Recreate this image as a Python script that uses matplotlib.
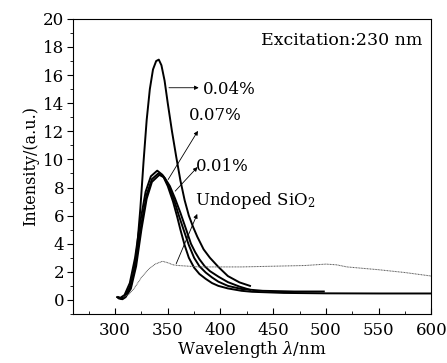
import matplotlib
matplotlib.use("Agg")
import matplotlib.pyplot as plt
from matplotlib.ticker import MultipleLocator

plt.rcParams["font.family"] = ["DejaVu Serif"]
plt.rcParams["mathtext.fontset"] = "dejavuserif"

# 0.04% Eu
wl_004 = [303, 306, 310, 314, 318, 321, 324, 327, 330, 333, 336, 339, 341.5, 344,
          347, 350, 354, 358, 362, 366, 370, 374, 378, 384, 390, 398, 407, 418, 428]
int_004 = [0.15, 0.1, 0.3, 0.9, 2.0, 3.8, 6.5, 9.8, 12.8, 15.0, 16.4, 17.0, 17.1, 16.7,
           15.6, 14.0, 12.0, 10.2, 8.5, 7.1, 6.0, 5.2, 4.5, 3.6, 3.0, 2.35, 1.7, 1.25, 1.0]

# 0.07% Eu (outer of the three lower curves)
wl_007 = [304, 307, 310, 315, 320, 325, 330, 335, 342, 347, 352, 357, 362, 367.5,
          372, 376, 380, 385, 390, 398, 407, 418, 428]
int_007 = [0.1, 0.05, 0.2, 0.8, 2.4, 5.0, 7.2, 8.4, 8.9, 8.7, 8.1, 7.2, 6.2, 5.0,
           4.0, 3.4, 2.9, 2.4, 2.05, 1.66, 1.27, 0.95, 0.72]

# 0.01% Eu
wl_001 = [303, 306, 310, 315, 320, 325, 330, 335, 341, 346, 351, 356, 361, 365,
          370, 375, 380, 386, 392, 398, 407, 420, 440, 470, 498]
int_001 = [0.2, 0.1, 0.3, 1.0, 2.8, 5.4, 7.5, 8.6, 9.0, 8.8, 8.1, 7.1, 5.9, 5.0,
           3.9, 3.0, 2.4, 1.95, 1.6, 1.3, 1.0, 0.78, 0.65, 0.6, 0.6]

# third doped curve, long tail to 600 nm
wl_low = [302, 305, 309, 314, 319, 324, 329, 334, 340, 345, 350, 355, 359, 362,
          366, 370, 375, 380, 386, 392, 398, 407, 420, 430, 460, 500, 550, 600]
int_low = [0.2, 0.15, 0.35, 1.2, 3.0, 5.6, 7.7, 8.8, 9.2, 8.9, 8.1, 7.0, 5.9, 5.0,
           3.9, 3.0, 2.3, 1.85, 1.5, 1.2, 1.0, 0.82, 0.65, 0.58, 0.5, 0.47, 0.46, 0.46]

# undoped SiO2
wl_si = [308, 313, 318, 325, 332, 338, 345, 350, 355, 360, 370, 380, 400, 420,
         450, 480, 500, 510, 520, 550, 575, 600]
int_si = [0.2, 0.4, 0.8, 1.6, 2.2, 2.55, 2.75, 2.65, 2.5, 2.45, 2.4, 2.35, 2.35,
          2.35, 2.4, 2.45, 2.55, 2.5, 2.35, 2.15, 1.95, 1.7]

fig = plt.figure(figsize=(4.47, 3.63), dpi=100)
ax = fig.add_axes([0.163, 0.135, 0.802, 0.813])

for wl, val in [(wl_004, int_004), (wl_007, int_007), (wl_001, int_001), (wl_low, int_low)]:
    ax.plot(wl, val, color="black", linewidth=1.4, solid_joinstyle="round")
ax.plot(wl_si, int_si, color="#555555", linewidth=0.7, linestyle=(0, (1, 0.6)))

ax.set_xlim(260, 600)
ax.set_ylim(-1, 20)
ax.set_xticks([300, 350, 400, 450, 500, 550, 600])
ax.xaxis.set_minor_locator(MultipleLocator(25))
ax.yaxis.set_major_locator(MultipleLocator(2))
ax.yaxis.set_minor_locator(MultipleLocator(1))
ax.tick_params(axis="x", which="both", direction="in", labelsize=12, pad=6)
ax.tick_params(axis="y", which="both", direction="out", labelsize=12, pad=2)
ax.tick_params(which="major", length=4)
ax.tick_params(which="minor", length=2)
for s in ax.spines.values():
    s.set_linewidth(0.8)

ax.set_xlabel(r"Wavelength $\lambda$/nm", fontsize=12, labelpad=0)
ax.set_ylabel("Intensity/(a.u.)", fontsize=11.5, labelpad=3)

ax.text(0.975, 0.955, "Excitation:230 nm", transform=ax.transAxes,
        ha="right", va="top", fontsize=12.5)

arrow = dict(arrowstyle="-|>", color="black", linewidth=0.6, mutation_scale=6)
ax.text(383, 15.0, "0.04%", fontsize=12, va="center", ha="left")
ax.annotate("", xy=(382, 15.1), xytext=(348.5, 15.1), arrowprops=arrow)
ax.text(395, 13.1, "0.07%", fontsize=12, va="center", ha="center")
ax.annotate("", xy=(380, 12.2), xytext=(349, 8.4), arrowprops=arrow)
ax.text(402, 9.5, "0.01%", fontsize=12, va="center", ha="center")
ax.annotate("", xy=(380, 9.6), xytext=(355.3, 7.6), arrowprops=arrow)
ax.text(376, 7.1, r"Undoped SiO$_2$", fontsize=12, va="center", ha="left")
ax.annotate("", xy=(379, 6.3), xytext=(357, 2.4), arrowprops=arrow)

fig.savefig("out.png", dpi=100)
